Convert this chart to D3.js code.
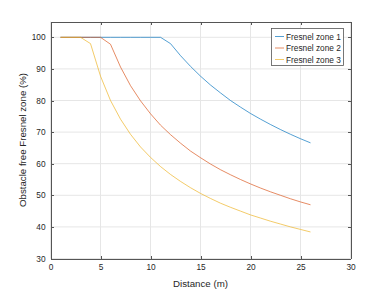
<!DOCTYPE html>
<html><head><meta charset="utf-8">
<script src="https://cdn.jsdelivr.net/npm/d3@7/dist/d3.min.js"></script>
<style>body{margin:0;background:#fff}svg{display:block}text{font-family:"Liberation Sans",Arial,sans-serif}</style>
</head><body><svg id="c" width="388" height="291"></svg>
<script>
const distance = [1,2,3,4,5,6,7,8,9,10,11,12,13,14,15,16,17,18,19,20,21,22,23,24,25,26];
const zone1 = [100,100,100,100,100,100,100,100,100,100,100,98.0,94.2,90.8,87.7,84.9,82.4,80.0,77.9,75.9,74.1,72.4,70.8,69.3,67.9,66.6];
const zone2 = [100,100,100,100,100,97.8,90.6,84.7,79.9,75.8,72.2,69.2,66.5,64.0,61.9,59.9,58.1,56.5,55.0,53.6,52.3,51.1,50.0,48.9,47.9,47.0];
const zone3 = [100,100,100,98.0,87.7,80.0,74.1,69.3,65.3,62.0,59.1,56.6,54.4,52.4,50.6,49.0,47.5,46.2,45.0,43.8,42.8,41.8,40.9,40.0,39.2,38.4];
const seriesNames = ["Fresnel zone 1","Fresnel zone 2","Fresnel zone 3"];
const seriesColors = ["#0072BD","#D95319","#EDB120"];
const xTicks = [0,5,10,15,20,25,30];
const yTicks = [30,40,50,60,70,80,90,100];

const svg = d3.select("#c");
const L=50.5,R=350.5,T=21.5,B=258.5;
const x = d3.scaleLinear().domain([0,30]).range([L,R]);
const y = d3.scaleLinear().domain([30,105]).range([B,T]);
const axisCol="#262626";

// grid
const g = svg.append("g");
g.selectAll(".gx").data(xTicks).join("line").attr("x1",d=>x(d)).attr("x2",d=>x(d)).attr("y1",T).attr("y2",B).attr("stroke","#e6e6e6");
g.selectAll(".gy").data(yTicks).join("line").attr("y1",d=>y(d)).attr("y2",d=>y(d)).attr("x1",L).attr("x2",R).attr("stroke","#e6e6e6");

// lines
const series=[zone1,zone2,zone3];
const line = d3.line().x((d,i)=>x(distance[i])).y(d=>y(d));
series.forEach((s,k)=>{
  svg.append("path").datum(s).attr("d",line).attr("fill","none").attr("stroke",seriesColors[k]).attr("stroke-width",0.9).attr("stroke-opacity",0.75);
});

// axes
const tl=3;
const ax = svg.append("g").attr("shape-rendering","crispEdges");
const axB = d3.axisBottom(x).tickValues(xTicks).tickSizeInner(-tl).tickSizeOuter(0).tickPadding(6);
const axL = d3.axisLeft(y).tickValues(yTicks).tickSizeInner(-tl).tickSizeOuter(0).tickPadding(5);
const axT = d3.axisTop(x).tickValues(xTicks).tickSizeInner(-tl).tickSizeOuter(0).tickFormat("");
const axR = d3.axisRight(y).tickValues(yTicks).tickSizeInner(-tl).tickSizeOuter(0).tickFormat("");
ax.append("g").attr("transform",`translate(0,${B})`).call(axB);
ax.append("g").attr("transform",`translate(${L},0)`).call(axL);
ax.append("g").attr("transform",`translate(0,${T})`).call(axT);
ax.append("g").attr("transform",`translate(${R},0)`).call(axR);
ax.selectAll("path.domain").attr("stroke","#555");
ax.selectAll(".tick line").attr("stroke","#555");
ax.selectAll(".tick text").attr("fill",axisCol).style("font-size","8.3px").style("font-family","Liberation Sans, Arial, sans-serif");

// labels
svg.append("text").attr("x",(L+R)/2).attr("y",287).attr("text-anchor","middle").attr("fill",axisCol).style("font-size","9.7px").text("Distance (m)");
svg.append("text").attr("transform",`translate(26,${(T+B)/2}) rotate(-90)`).attr("text-anchor","middle").attr("fill",axisCol).style("font-size","9.7px").text("Obstacle free Fresnel zone (%)");

// legend
const lg = svg.append("g");
lg.append("rect").attr("x",271.5).attr("y",28.5).attr("width",72).attr("height",37).attr("fill","#fff").attr("stroke","#555").attr("stroke-width",0.8);
seriesNames.forEach((n,k)=>{
  const yy=36.5+k*11.5;
  lg.append("line").attr("x1",275).attr("x2",284).attr("y1",yy).attr("y2",yy).attr("stroke",seriesColors[k]).attr("stroke-width",0.9).attr("stroke-opacity",0.75);
  lg.append("text").attr("x",286).attr("y",yy+3).attr("fill",axisCol).style("font-size","8.3px").text(n);
});
</script></body></html>
